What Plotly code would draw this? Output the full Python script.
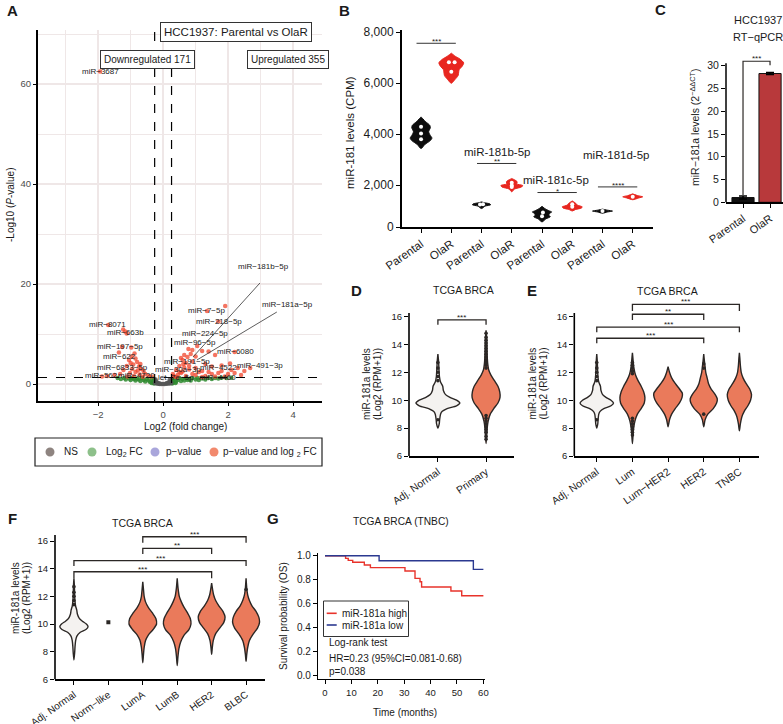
import plotly.graph_objects as go

W, H = 783, 724
FONT = "Liberation Sans, Arial, Helvetica, sans-serif"
INK = "#1a1a1a"
OUT = "#2b2725"
ORANGE = "#EA7A5B"
PALE = "#F4F2F0"


def X(p):
    return p / W


def Y(p):
    return 1 - p / H


# ======================= Panel A : volcano =======================
a_red = [(-1.94, 62.5), (-1.69, 11.8), (-1.23, 10.9), (-1.17, 10.5), (-1.12, 10.1),
         (-1.26, 7.4), (-0.98, 7.3), (-1.36, 6.3), (-0.88, 6.1), (-0.97, 5.5), (-1.05, 4.8),
         (-0.85, 5.1), (-0.80, 4.4), (-0.92, 3.9), (-1.12, 3.6), (-0.74, 3.5), (-0.68, 3.0),
         (-0.95, 3.0), (-1.22, 2.8), (-0.60, 2.6), (-0.85, 2.4), (-1.02, 2.2), (-0.55, 2.0),
         (-0.72, 1.9), (-1.32, 2.0), (-1.50, 1.8), (-1.72, 1.6), (-0.45, 1.6), (-0.90, 1.6),
         (-1.10, 1.5), (-1.88, 1.5), (-0.36, 1.5), (-0.62, 1.45), (-0.78, 2.7), (-1.00, 4.2),
         (-0.70, 4.0),
         (1.91, 15.6), (1.35, 14.6), (1.70, 12.5), (1.05, 7.6), (0.90, 6.8), (1.20, 6.6),
         (1.40, 6.5), (0.85, 6.0), (0.75, 5.4), (1.00, 5.5), (0.60, 4.8), (0.70, 4.2),
         (0.90, 4.5), (1.60, 5.8), (2.20, 6.4), (2.06, 4.1), (2.68, 3.2), (1.30, 4.0),
         (1.50, 3.5), (1.80, 3.7), (2.30, 3.2), (2.50, 2.6), (0.50, 3.6), (0.40, 2.8),
         (0.60, 2.5), (0.80, 2.9), (1.00, 3.2), (1.20, 2.6), (1.40, 2.4), (1.70, 2.2),
         (2.00, 2.0), (2.20, 2.2), (0.30, 2.0), (0.45, 1.8), (0.70, 1.6), (1.00, 1.8),
         (1.30, 1.6), (1.60, 1.5), (1.90, 1.5), (2.40, 1.8), (0.35, 1.5), (0.55, 2.2),
         (0.90, 2.0), (1.10, 2.4), (0.80, 3.6), (0.65, 3.3), (0.50, 2.4), (0.30, 1.6),
         (0.42, 1.4), (1.20, 1.4), (1.50, 2.0), (1.80, 2.6), (2.10, 2.8), (0.55, 5.2),
         (0.65, 5.8), (0.78, 7.0), (0.62, 4.0)]
a_green = [(-1.40, 1.2), (-1.30, 1.0), (-1.20, 1.2), (-1.15, 0.9), (-1.05, 1.1), (-1.00, 0.8),
           (-0.95, 1.2), (-0.90, 1.0), (-0.85, 0.7), (-0.80, 1.1), (-0.75, 0.9), (-0.70, 0.6),
           (-0.65, 1.2), (-0.60, 0.8), (-0.55, 0.5), (-0.50, 1.0), (-0.45, 0.7), (-0.40, 0.4),
           (-0.35, 1.1), (-0.30, 0.6), (-0.30, 0.3), (-0.27, 0.9), (-0.28, 0.1), (-0.35, 0.2),
           (0.27, 0.9), (0.30, 0.3), (0.32, 0.6), (0.35, 1.1), (0.40, 0.45), (0.45, 0.8),
           (0.50, 1.2), (0.55, 0.6), (0.60, 1.0), (0.65, 0.7), (0.70, 1.2), (0.75, 0.8),
           (0.80, 1.0), (0.85, 0.7), (0.90, 1.2), (1.00, 0.9), (1.05, 1.2), (1.10, 0.8),
           (1.20, 1.1), (1.30, 0.9), (1.40, 1.2), (1.50, 1.0), (1.60, 1.2), (1.70, 1.1),
           (1.80, 1.25), (1.95, 1.2), (2.10, 1.25), (0.28, 0.1), (0.38, 0.2)]
a_grey = [(-0.25, 0.2), (-0.20, 0.1), (-0.15, 0.05), (-0.10, 0.02), (-0.05, 0.0), (0.00, 0.0),
          (0.05, 0.02), (0.10, 0.05), (0.15, 0.08), (0.20, 0.12), (0.25, 0.2), (-0.22, 0.5),
          (0.22, 0.5), (-0.18, 0.3), (0.18, 0.3), (-0.12, 0.15), (0.12, 0.2), (-0.23, 0.9),
          (0.20, 0.8)]
a_labels = [("miR−3687", -1.94, 62.5), ("miR−8071", -1.71, 11.8), ("miR−663b", -1.15, 10.2),
            ("miR−197−5p", -1.32, 7.4), ("miR−622", -1.34, 5.4), ("miR−6833−5p", -1.26, 3.2),
            ("miR−562", -1.91, 1.6), ("miR−4720", -0.83, 1.6), ("miR−7−5p", 1.32, 14.6),
            ("miR−218−5p", 1.72, 12.4), ("miR−224−5p", 1.29, 10.0), ("miR−96−5p", 0.99, 8.2),
            ("miR−6080", 2.24, 6.4), ("miR−191−5p", 0.72, 4.4), ("miR−491−3p", 2.98, 3.6),
            ("miR−30a−3p", 0.46, 2.8), ("miR−4522", 1.70, 3.2), ("miR−4460", 1.66, 1.2),
            ("let−7e−5p", 0.40, 1.2)]
a_leads = [("miR−181b−5p", 3.10, 23.4, 2.98, 20.2, 0.92, 5.4),
           ("miR−181a−5p", 3.83, 15.8, 3.50, 14.4, 1.04, 4.8)]
a_fc_cut = 0.26
a_p_cut = 1.3
a_counts = ["Downregulated 171", "Upregulated 355"]
a_legend_text = ["NS", "Log<sub>2</sub> FC", "p−value", "p−value and log <sub>2</sub> FC"]
a_legend_colors = ["#8E8480", "#8DC08A", "#A9A6DB", "#F2896D"]

# ======================= Panel B : CPM violins =======================
b_ticks = ["Parental", "OlaR"] * 4
b_groups = ["miR-181a-5p", "miR-181b-5p", "miR-181c-5p", "miR-181d-5p"]
b_group_x = [0.5, 2.5, 4.45, 6.44]
b_group_y = [8367, 3300, 2196, 3179]
b_sig = ["***", "**", "*", "****"]
b_sig_y = [7569, 2853, 1713, 1933]
b_prof_y = [
    [3440, 3600, 3750, 3850, 3950, 4100, 4250, 4350, 4500, 4680],
    [6000, 6150, 6300, 6450, 6550, 6650, 6800, 6950, 7050, 7180],
    [1084, 1180, 1230, 1270, 1310, 1344],
    [1740, 1850, 1930, 1990, 2050, 2130, 2200, 2262],
    [560, 680, 760, 830, 900, 950, 1000, 1080, 1175],
    [990, 1050, 1100, 1150, 1220, 1290, 1383],
    [900, 950, 985, 1020, 1060],
    [1430, 1500, 1545, 1590, 1660],
]
b_prof_w = [
    [0, 0.35, 0.85, 1.0, 0.85, 0.7, 0.85, 0.8, 0.4, 0],
    [0, 0.3, 0.55, 0.6, 0.65, 0.85, 1.0, 0.7, 0.35, 0],
    [0, 0.4, 1.0, 0.9, 0.35, 0],
    [0, 0.25, 0.9, 1.0, 0.45, 0.5, 0.3, 0],
    [0, 0.4, 0.85, 0.7, 0.8, 1.0, 0.7, 0.3, 0],
    [0, 0.35, 0.9, 1.0, 0.5, 0.35, 0],
    [0, 0.5, 1.0, 0.5, 0],
    [0, 0.6, 1.0, 0.5, 0],
]
b_half = [0.36, 0.41, 0.30, 0.36, 0.32, 0.33, 0.33, 0.33]
b_dot_y = [[4290, 4030, 3800], [6821, 6821, 6452], [1240, 1250], [2100, 1990, 1930],
           [780, 930], [1150, 1250], [985], [1545]]
b_dot_dx = [[0, 0, 0], [-0.08, 0.11, 0], [-0.05, 0.05], [0, 0, 0], [0, 0.03], [0, 0], [0], [0]]

# ======================= Panel C : RT-qPCR bars =======================
c_ticks = ["Parental", "OlaR"]
c_vals = [1.05, 28.3]
c_err = [0.35, 0.2]
c_colors = ["#111111", "#B8393B"]
c_sig = "***"

# ======================= Panels D/E : TCGA violins =======================
adj_ys = [8.0, 8.3, 8.6, 9.0, 9.2, 9.4, 9.6, 9.8, 10.0, 10.2, 10.4, 10.7, 11.0, 11.3, 11.7, 12.2, 12.8, 13.3]
adj_ws = [0.0, 0.06, 0.08, 0.12, 0.2, 0.42, 0.85, 1.0, 0.85, 0.55, 0.35, 0.25, 0.22, 0.12, 0.07, 0.05, 0.03, 0.0]
prim_ys = [6.9, 7.5, 8.0, 8.5, 9.0, 9.4, 9.8, 10.2, 10.6, 11.0, 11.4, 11.8, 12.2, 12.6, 13.0, 13.5, 14.0, 14.5, 15.0]
prim_ws = [0, 0.05, 0.08, 0.15, 0.3, 0.55, 0.85, 1.0, 0.98, 0.85, 0.6, 0.35, 0.18, 0.12, 0.09, 0.07, 0.06, 0.04, 0]
lum_ys = [6.9, 7.5, 8.0, 8.5, 9.0, 9.4, 9.8, 10.2, 10.6, 11.0, 11.4, 11.8, 12.3, 12.8, 13.4]
lum_ws = [0, 0.05, 0.1, 0.2, 0.4, 0.7, 0.95, 1.0, 0.9, 0.7, 0.45, 0.25, 0.12, 0.06, 0]
lumher2_ys = [8.1, 8.6, 9.0, 9.4, 9.8, 10.2, 10.5, 10.8, 11.2, 11.6, 12.0, 12.4]
lumher2_ws = [0, 0.1, 0.25, 0.5, 0.8, 0.98, 1.0, 0.8, 0.5, 0.25, 0.1, 0]
her2_ys = [8.1, 8.6, 9.0, 9.4, 9.8, 10.1, 10.4, 10.8, 11.2, 11.6, 12.0, 12.4, 12.8, 13.3]
her2_ws = [0, 0.1, 0.3, 0.7, 0.95, 1.0, 0.85, 0.55, 0.35, 0.25, 0.15, 0.1, 0.05, 0]
tnbc_ys = [7.8, 8.3, 8.8, 9.2, 9.6, 10.0, 10.4, 10.8, 11.2, 11.6, 12.0, 12.5, 13.0, 13.4]
tnbc_ws = [0, 0.08, 0.2, 0.4, 0.7, 0.92, 1.0, 0.85, 0.55, 0.3, 0.15, 0.08, 0.04, 0]

d_ticks = ["Adj. Normal", "Primary"]
d_half = [0.455, 0.29]
d_box = [(8.8, 9.45, 9.8, 10.1, 11.1), (8.6, 9.95, 10.4, 10.95, 12.1)]
d_out = [[11.4, 11.7, 12.0, 12.3, 12.7, 8.6],
         [12.3, 12.5, 12.7, 12.9, 13.1, 13.3, 13.5, 13.7, 13.9, 14.1, 14.3, 14.5, 14.8,
          8.9, 8.7, 8.5, 8.3, 8.1, 7.9, 7.7, 7.4, 7.2]]
d_brackets = [(0, 1, 15.75, 15.4, "***")]

e_ticks = ["Adj. Normal", "Lum", "Lum−HER2", "HER2", "TNBC"]
e_half = [0.47, 0.35, 0.40, 0.38, 0.34]
e_box = [(8.8, 9.42, 9.8, 10.08, 11.1), (8.6, 9.66, 10.2, 10.66, 11.8),
         (9.0, 10.06, 10.45, 10.85, 11.6), (9.0, 9.9, 10.2, 10.73, 11.9),
         (8.5, 9.9, 10.5, 11.0, 12.3)]
e_out = [[11.4, 11.7, 12.0, 12.3, 12.7, 8.6],
         [11.9, 12.1, 12.3, 12.5, 12.7, 8.7, 8.5, 8.3, 8.1, 7.9, 7.7, 7.5],
         [], [12.3, 12.6, 9.0], []]
e_brackets = [(1, 4, 16.87, 16.4, "***"), (1, 3, 16.16, 15.75, "**"),
              (0, 4, 15.23, 14.87, "***"), (0, 3, 14.44, 14.08, "***")]

# ======================= Panel F : PAM50 violins =======================
fadj_ys = [7.4, 7.9, 8.4, 8.8, 9.1, 9.4, 9.6, 9.8, 10.0, 10.2, 10.4, 10.7, 11.0, 11.3, 11.7, 12.2, 12.8, 13.3]
fadj_ws = [0.0, 0.05, 0.08, 0.12, 0.2, 0.45, 0.85, 1.0, 0.88, 0.6, 0.38, 0.25, 0.2, 0.12, 0.07, 0.05, 0.03, 0.0]
luma_ys = [7.2, 7.8, 8.3, 8.8, 9.2, 9.6, 10.0, 10.4, 10.8, 11.2, 11.6, 12.0, 12.5, 13.06]
luma_ws = [0, 0.05, 0.1, 0.2, 0.4, 0.75, 1.0, 0.95, 0.7, 0.4, 0.2, 0.1, 0.05, 0]
lumb_ys = [7.0, 7.6, 8.2, 8.7, 9.2, 9.6, 10.0, 10.4, 10.8, 11.2, 11.6, 12.0, 12.6, 13.3]
lumb_ws = [0, 0.05, 0.12, 0.25, 0.5, 0.85, 1.0, 0.95, 0.75, 0.5, 0.3, 0.15, 0.06, 0]
fher2_ys = [7.8, 8.3, 8.8, 9.3, 9.7, 10.1, 10.5, 10.9, 11.3, 11.7, 12.1, 12.5, 12.95]
fher2_ws = [0, 0.05, 0.12, 0.3, 0.6, 0.9, 1.0, 0.85, 0.55, 0.3, 0.15, 0.07, 0]
blbc_ys = [7.3, 7.8, 8.3, 8.8, 9.3, 9.7, 10.1, 10.5, 10.9, 11.3, 11.7, 12.1, 12.6, 13.3]
blbc_ws = [0, 0.05, 0.12, 0.25, 0.55, 0.85, 1.0, 0.95, 0.75, 0.45, 0.25, 0.12, 0.05, 0]

f_ticks = ["Adj. Normal", "Norm−like", "LumA", "LumB", "HER2", "BLBC"]
f_half = [0.41, 0.0, 0.40, 0.40, 0.39, 0.39]
f_box = [(8.8, 9.56, 9.85, 10.3, 11.1), None, (8.7, 9.6, 10.2, 10.65, 11.7),
         (8.6, 9.8, 10.1, 10.77, 12.0), (9.4, 10.2, 10.6, 11.0, 12.0),
         (8.9, 9.9, 10.5, 10.85, 12.0)]
f_single = [(1, 10.12)]
f_out = [[11.4, 11.7, 12.0, 12.3, 12.7], [], [], [], [], [12.5]]
f_brackets = [(2, 5, 16.31, 15.88, "***"), (2, 4, 15.47, 15.06, "**"),
              (0, 5, 14.58, 14.19, "***"), (0, 4, 13.78, 13.3, "***")]

# ======================= Panel G : Kaplan-Meier =======================
g_high_t = [0, 7.8, 8.8, 10.5, 14.9, 17.2, 30.3, 34.1, 36.0, 36.6, 47.7, 51.8, 60]
g_high_s = [1.0, 0.978, 0.961, 0.945, 0.922, 0.9, 0.872, 0.81, 0.782, 0.738, 0.704, 0.665, 0.665]
g_low_t = [0, 20.5, 56.2, 60]
g_low_s = [1.0, 0.958, 0.886, 0.886]
g_names = ["miR-181a high", "miR-181a low"]
g_colors = ["#E8332B", "#2B3990"]
g_stats = ["Log-rank test", "HR=0.23 (95%CI=0.081-0.68)", "p=0.038"]

# =====================================================================
fig = go.Figure()
shapes = []
ann = []


def text(x, y, s, size=10, xanchor="center", yanchor="middle", angle=0, bold=False, color=INK):
    ann.append(dict(x=X(x), y=Y(y), xref="paper", yref="paper", text=("<b>%s</b>" % s) if bold else s,
                    showarrow=False, xanchor=xanchor, yanchor=yanchor, textangle=angle,
                    font=dict(family=FONT, size=size, color=color)))


def pline(x0, y0, x1, y1, w=1.5, color="black", dash=None):
    shapes.append(dict(type="line", xref="paper", yref="paper", x0=X(x0), y0=Y(y0), x1=X(x1), y1=Y(y1),
                       line=dict(color=color, width=w, dash=dash) if dash else dict(color=color, width=w)))


def violin(ax, c, ys, ws, half, fill, lw=1.4):
    xs = [c + w * half for w in ws] + [c - w * half for w in ws[::-1]]
    yy = list(ys) + list(ys[::-1])
    fig.add_trace(go.Scatter(x=xs, y=yy, xaxis="x" + ax, yaxis="y" + ax, mode="lines", fill="toself",
                             fillcolor=fill, line=dict(color=OUT, width=lw, shape="spline", smoothing=0.7),
                             hoverinfo="skip", showlegend=False))


def box(ax, c, st, w):
    lf, q1, md, q3, uf = st
    fig.add_trace(go.Box(x=[c], lowerfence=[lf], q1=[q1], median=[md], q3=[q3], upperfence=[uf],
                         xaxis="x" + ax, yaxis="y" + ax, width=w, fillcolor="white",
                         line=dict(color=OUT, width=1.1), whiskerwidth=0, boxpoints=False,
                         showlegend=False, hoverinfo="skip"))


def outliers(ax, c, vals):
    if vals:
        fig.add_trace(go.Scatter(x=[c] * len(vals), y=vals, xaxis="x" + ax, yaxis="y" + ax, mode="markers",
                                 marker=dict(color=OUT, size=3.6), hoverinfo="skip", showlegend=False))


def brackets(ax, items, star_size=8):
    for (i0, i1, top, leg, s) in items:
        shapes.append(dict(type="path", xref="x" + ax, yref="y" + ax,
                           path="M %s,%s L %s,%s L %s,%s L %s,%s" % (i0, leg, i0, top, i1, top, i1, leg),
                           line=dict(color=OUT, width=1.3)))
        ann.append(dict(x=(i0 + i1) / 2, y=top, xref="x" + ax, yref="y" + ax, text=s, showarrow=False,
                        yanchor="bottom", yshift=-4, font=dict(family=FONT, size=star_size, color=INK)))


# ---------- A traces ----------
fig.add_trace(go.Scatter(x=[p[0] for p in a_green], y=[p[1] for p in a_green], mode="markers",
                         marker=dict(color="#2F8A2F", size=4.5, opacity=0.85), showlegend=False, hoverinfo="skip"))
fig.add_trace(go.Scatter(x=[p[0] for p in a_grey], y=[p[1] for p in a_grey], mode="markers",
                         marker=dict(color="#555555", size=4.5, opacity=0.85), showlegend=False, hoverinfo="skip"))
fig.add_trace(go.Scatter(x=[p[0] for p in a_red], y=[p[1] for p in a_red], mode="markers",
                         marker=dict(color="#F0452C", size=4.5, opacity=0.75), showlegend=False, hoverinfo="skip"))
for s, x, y in a_labels:
    ann.append(dict(x=x, y=y, xref="x", yref="y", text=s, showarrow=False,
                    font=dict(family=FONT, size=8, color="#222222")))
for s, tx, ty, x0, y0, x1, y1 in a_leads:
    ann.append(dict(x=tx, y=ty, xref="x", yref="y", text=s, showarrow=False,
                    font=dict(family=FONT, size=8, color="#222222")))
    shapes.append(dict(type="line", xref="x", yref="y", x0=x0, y0=y0, x1=x1, y1=y1,
                       line=dict(color="#333333", width=0.8)))
for xv in (-a_fc_cut, a_fc_cut):
    shapes.append(dict(type="line", xref="x", yref="y domain", x0=xv, x1=xv, y0=0, y1=1,
                       line=dict(color="black", width=1.2, dash="dash")))
shapes.append(dict(type="line", xref="x domain", yref="y", x0=0, x1=1, y0=a_p_cut, y1=a_p_cut,
                   line=dict(color="black", width=1.2, dash="dash")))
ann.append(dict(x=X(160), y=Y(22), xref="paper", yref="paper", text="HCC1937: Parental vs OlaR",
                showarrow=False, bordercolor="#333", borderwidth=1, borderpad=3, bgcolor="white",
                font=dict(family=FONT, size=11.5, color=INK)))
for s, cx in zip(a_counts, (100, 247)):
    ann.append(dict(x=X(cx), y=Y(50), xref="paper", yref="paper", text=s, showarrow=False,
                    bordercolor="#333", borderwidth=1, borderpad=3, bgcolor="white",
                    font=dict(family=FONT, size=10, color=INK)))
# legend A
shapes.append(dict(type="rect", xref="paper", yref="paper", x0=X(35), x1=X(322), y0=Y(438), y1=Y(466),
                   line=dict(color="#222", width=1.2)))
for s, col, cx, tx in zip(a_legend_text, a_legend_colors, (50, 92, 155, 214), (62, 104, 164, 221)):
    r = 4.5
    shapes.append(dict(type="circle", xref="paper", yref="paper", x0=X(cx - r), x1=X(cx + r),
                       y0=Y(452 + r), y1=Y(452 - r), fillcolor=col, line=dict(width=0)))
    text(tx, 452, s, size=10, xanchor="left")
text(185, 426, "Log2 (fold change)", size=10)
text(10, 205, "-Log10 (<i>P</i>-value)", size=10, angle=-90)

# ---------- B traces ----------
for i in range(8):
    col = "#0d0d0d" if i % 2 == 0 else "#E8261F"
    xs = [i + w * b_half[i] for w in b_prof_w[i]] + [i - w * b_half[i] for w in b_prof_w[i][::-1]]
    yy = b_prof_y[i] + b_prof_y[i][::-1]
    fig.add_trace(go.Scatter(x=xs, y=yy, xaxis="x2", yaxis="y2", mode="lines", fill="toself", fillcolor=col,
                             line=dict(color=col, width=1, shape="spline", smoothing=0.7),
                             hoverinfo="skip", showlegend=False))
    fig.add_trace(go.Scatter(x=[i + d for d in b_dot_dx[i]], y=b_dot_y[i], xaxis="x2", yaxis="y2",
                             mode="markers", marker=dict(color="white", size=4), hoverinfo="skip",
                             showlegend=False))
for k in range(4):
    i = 2 * k
    shapes.append(dict(type="line", xref="x2", yref="y2", x0=i - 0.15, x1=i + 1.15, y0=b_sig_y[k],
                       y1=b_sig_y[k], line=dict(color="#333", width=1)))
    ann.append(dict(x=i + 0.5, y=b_sig_y[k], xref="x2", yref="y2", text=b_sig[k], showarrow=False,
                    yanchor="bottom", yshift=-5, font=dict(family=FONT, size=8, color=INK)))
    ann.append(dict(x=b_group_x[k], y=b_group_y[k], xref="x2", yref="y2", text=b_groups[k],
                    showarrow=False, font=dict(family=FONT, size=11.5, color=INK)))
text(350, 133, "miR-181 levels (CPM)", size=11.5, angle=-90)

# ---------- C traces ----------
fig.add_trace(go.Bar(x=[0, 1], y=c_vals, xaxis="x3", yaxis="y3", width=0.82,
                     marker=dict(color=c_colors, line=dict(color="#111", width=1)),
                     error_y=dict(type="data", array=c_err, color="black", thickness=1.5, width=4),
                     showlegend=False, hoverinfo="skip"))
shapes.append(dict(type="path", xref="x3", yref="y3", path="M 0,1.6 L 0,31 L 1,31 L 1,30.1",
                   line=dict(color=OUT, width=1.2)))
ann.append(dict(x=0.5, y=31, xref="x3", yref="y3", text=c_sig, showarrow=False, yanchor="bottom",
                yshift=-4, font=dict(family=FONT, size=8, color=INK)))
pline(726, 63.3, 726, 202.3, w=1.5)
text(758, 20, "HCC1937", size=11)
text(757.5, 37, "RT−qPCR", size=11)
text(694, 127, "miR−181a levels (2<sup>−ΔΔCT</sup>)", size=10.5, angle=-90)

# ---------- D traces ----------
for i, (ys, ws, fill) in enumerate([(adj_ys, adj_ws, PALE), (prim_ys, prim_ws, ORANGE)]):
    violin("4", i, ys, ws, d_half[i], fill)
    outliers("4", i, d_out[i])
    box("4", i, d_box[i], 0.12)
brackets("4", d_brackets)
pline(409, 313, 409, 456, w=1.6)

# ---------- E traces ----------
e_prof = [(adj_ys, adj_ws, PALE), (lum_ys, lum_ws, ORANGE), (lumher2_ys, lumher2_ws, ORANGE),
          (her2_ys, her2_ws, ORANGE), (tnbc_ys, tnbc_ws, ORANGE)]
for i, (ys, ws, fill) in enumerate(e_prof):
    violin("5", i, ys, ws, e_half[i], fill)
    outliers("5", i, e_out[i])
    box("5", i, e_box[i], 0.17)
brackets("5", e_brackets)
pline(574.3, 313, 574.3, 456, w=1.6)

# ---------- F traces ----------
f_prof = [(fadj_ys, fadj_ws, PALE), None, (luma_ys, luma_ws, ORANGE), (lumb_ys, lumb_ws, ORANGE),
          (fher2_ys, fher2_ws, ORANGE), (blbc_ys, blbc_ws, ORANGE)]
for i, pr in enumerate(f_prof):
    if pr is None:
        continue
    violin("6", i, pr[0], pr[1], f_half[i], pr[2])
    outliers("6", i, f_out[i])
    box("6", i, f_box[i], 0.17)
fig.add_trace(go.Scatter(x=[p[0] for p in f_single], y=[p[1] for p in f_single], xaxis="x6", yaxis="y6",
                         mode="markers", marker=dict(symbol="square", color=OUT, size=4),
                         hoverinfo="skip", showlegend=False))
brackets("6", f_brackets)
pline(55, 535, 55, 679.3, w=1.6)

for (xc, s1, s2) in [(366, "miR-181a levels", "(Log2 (RPM+1))"), (531.5, "miR-181a levels", "(Log2 (RPM+1))")]:
    text(xc, 384, s1, size=10, angle=-90)
    text(xc + 11, 384, s2, size=10, angle=-90)
text(15, 598, "miR-181a levels", size=10, angle=-90)
text(26, 598, "(Log2 (RPM+1))", size=10, angle=-90)
text(463, 290, "TCGA BRCA", size=10.5)
text(667, 291, "TCGA BRCA", size=10.5)
text(142, 523, "TCGA BRCA", size=10.5)

# ---------- G traces ----------
for t, s, col in [(g_high_t, g_high_s, g_colors[0]), (g_low_t, g_low_s, g_colors[1])]:
    fig.add_trace(go.Scatter(x=t, y=s, xaxis="x7", yaxis="y7", mode="lines",
                             line=dict(color=col, width=1.4, shape="hv"), hoverinfo="skip", showlegend=False))
shapes.append(dict(type="rect", xref="paper", yref="paper", x0=X(323.5), x1=X(408.5), y0=Y(601), y1=Y(636.5),
                   line=dict(color="#333", width=1)))
for name, col, yy in zip(g_names, g_colors, (613.3, 625)):
    pline(326.7, yy, 336.7, yy, w=1.6, color=col)
    text(340, yy, name, size=10, xanchor="left")
for s, yy in zip(g_stats, (642.3, 658.3, 671.7)):
    text(326.7, yy, s, size=10, xanchor="left")
text(401, 521.7, "TCGA BRCA (TNBC)", size=10.2)
text(283, 616, "Survival probability (OS)", size=10, angle=-90)
text(405, 712.7, "Time (months)", size=10)

# ---------- panel letters ----------
for s, x, y in [("A", 12, 10), ("B", 344, 10), ("C", 660, 9), ("D", 356, 290), ("E", 532, 290),
                ("F", 12, 518), ("G", 273, 518)]:
    text(x, y, s, size=15, bold=True)


# ---------- axes ----------
def axis(dom, rng, **kw):
    d = dict(domain=dom, range=rng, showgrid=False, zeroline=False, showline=True, linecolor="black",
             linewidth=1.6, ticks="outside", ticklen=4, tickwidth=1.3, tickcolor="black", automargin=False,
             tickfont=dict(size=10, color=INK, family=FONT), fixedrange=True)
    d.update(kw)
    return d


def xdom(a, b):
    return [X(a), X(b)]


def ydom(top, bot):
    return [Y(bot), Y(top)]


GRID = "#EFE7E7"
lay = dict(
    xaxis=axis(xdom(38, 322), [-3.85, 4.89], anchor="y", tickvals=[-2, 0, 2, 4], showgrid=True,
               gridcolor=GRID, gridwidth=2, linewidth=2.2, ticklen=3,
               tickfont=dict(size=9.5, color="#4d4d4d", family=FONT),
               minor=dict(tickvals=[-3, -1, 1, 3], showgrid=True, gridcolor=GRID, gridwidth=1, ticks="")),
    yaxis=axis(ydom(30, 401), [-3.4, 70.8], anchor="x", tickvals=[0, 20, 40, 60], showgrid=True,
               gridcolor=GRID, gridwidth=2, linewidth=2.2, ticklen=3,
               tickfont=dict(size=9.5, color="#4d4d4d", family=FONT),
               minor=dict(tickvals=[10, 30, 50, 70], showgrid=True, gridcolor=GRID, gridwidth=1, ticks="")),
    xaxis2=axis(xdom(402, 653), [-0.63, 7.67], anchor="y2", tickvals=list(range(8)), ticktext=b_ticks,
                tickangle=-35, linewidth=2, tickfont=dict(size=11.5, color=INK, family=FONT)),
    yaxis2=axis(ydom(30, 227), [360, 8090], anchor="x2", tickvals=[360, 2000, 4000, 6000, 8000],
                ticktext=["0", "2,000", "4,000", "6,000", "8,000"], linewidth=2,
                tickfont=dict(size=12, color=INK, family=FONT)),
    xaxis3=axis(xdom(726, 783), [-0.63, 1.48], anchor="y3", tickvals=[0, 1], ticktext=c_ticks,
                tickangle=-35, tickfont=dict(size=11, color=INK, family=FONT)),
    yaxis3=axis(ydom(40, 202.3), [0, 35.67], anchor="x3", tickvals=[0, 5, 10, 15, 20, 25, 30],
                showline=False, tickfont=dict(size=10.5, color=INK, family=FONT)),
    xaxis4=axis(xdom(409, 514), [-0.6, 1.58], anchor="y4", tickvals=[0, 1], ticktext=d_ticks,
                tickangle=-35, tickfont=dict(size=10.5, color=INK, family=FONT)),
    yaxis4=axis(ydom(300, 456), [6, 17.18], anchor="x4", tickvals=[6, 8, 10, 12, 14, 16], showline=False,
                tickfont=dict(size=9.5, color=INK, family=FONT)),
    xaxis5=axis(xdom(574.3, 759), [-0.63, 4.55], anchor="y5", tickvals=list(range(5)), ticktext=e_ticks,
                tickangle=-35, tickfont=dict(size=10.5, color=INK, family=FONT)),
    yaxis5=axis(ydom(300, 456), [6, 17.18], anchor="x5", tickvals=[6, 8, 10, 12, 14, 16], showline=False,
                tickfont=dict(size=9.5, color=INK, family=FONT)),
    xaxis6=axis(xdom(55, 265), [-0.55, 5.55], anchor="y6", tickvals=list(range(6)), ticktext=f_ticks,
                tickangle=-35, tickfont=dict(size=10, color=INK, family=FONT)),
    yaxis6=axis(ydom(525, 679.3), [6, 17.16], anchor="x6", tickvals=[6, 8, 10, 12, 14, 16], showline=False,
                tickfont=dict(size=9.5, color=INK, family=FONT)),
    xaxis7=axis(xdom(318, 484.7), [-2.65, 60.5], anchor="y7", tickvals=[0, 10, 20, 30, 40, 50, 60],
                linewidth=1.3, tickfont=dict(size=9.5, color=INK, family=FONT)),
    yaxis7=axis(ydom(553, 679.3), [-0.036, 1.023], anchor="x7", tickvals=[0, 0.2, 0.4, 0.6, 0.8, 1.0],
                tickformat=".1f", linewidth=1.3, tickfont=dict(size=10, color=INK, family=FONT)),
)

fig.update_layout(width=W, height=H, margin=dict(l=0, r=0, t=0, b=0, autoexpand=False), paper_bgcolor="white",
                  plot_bgcolor="rgba(0,0,0,0)", showlegend=False, shapes=shapes, annotations=ann,
                  font=dict(family=FONT, color=INK), barmode="overlay", boxmode="overlay", **lay)
fig.write_html("out.html", config={"displayModeBar": False},
               post_script="document.body.style.margin='0';document.body.style.overflow='hidden';")
